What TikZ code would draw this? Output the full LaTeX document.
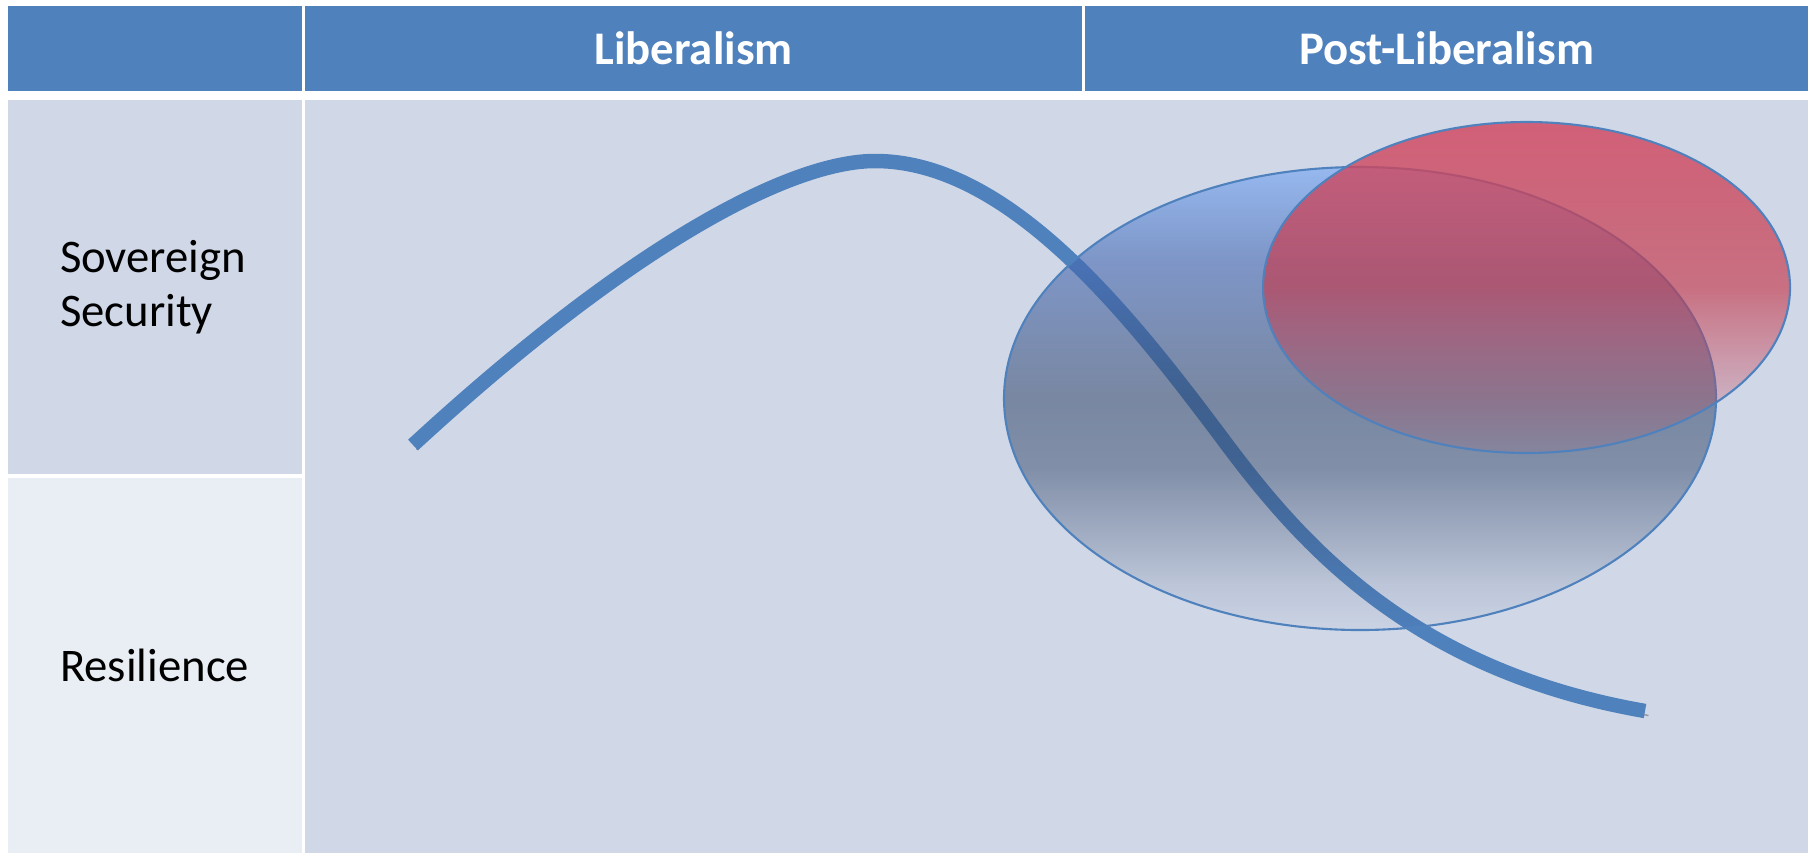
\documentclass[tikz,border=0pt]{standalone}
\usepackage{fontspec}
\setmainfont{Carlito}
\usetikzlibrary{positioning, fadings}

\definecolor{hdrblue}{RGB}{79,129,189}
\definecolor{cellA}{RGB}{208,216,232}
\definecolor{cellB}{RGB}{233,237,244}
\definecolor{glassTop}{RGB}{115,166,245}
\definecolor{glassMid}{RGB}{70,105,178}
\definecolor{glassLow}{RGB}{50,70,105}
\definecolor{roseTop}{RGB}{210,75,100}
\definecolor{roseMid}{RGB}{196,57,75}
\definecolor{roseBot}{RGB}{195,70,90}

% colour ramps of the two ellipses (path box = 25bp..75bp)
\pgfdeclareverticalshading{glassramp}{100bp}{color(0bp)=(glassLow); color(50bp)=(glassLow); color(65bp)=(glassMid); color(75bp)=(glassTop); color(100bp)=(glassTop)}
\pgfdeclareverticalshading{roseramp}{100bp}{color(0bp)=(roseBot); color(25bp)=(roseBot); color(50bp)=(roseMid); color(75bp)=(roseTop); color(100bp)=(roseTop)}
% see-through of the two ellipses (white = solid)
\pgfdeclareverticalshading{glassalpha}{100bp}{color(0bp)=(white!3!black); color(25bp)=(white!3!black); color(30bp)=(white!12!black); color(35bp)=(white!28!black); color(42.5bp)=(white!50!black); color(50bp)=(white!55!black); color(75bp)=(white!62!black); color(100bp)=(white!62!black)}
\pgfdeclareverticalshading{rosealpha}{100bp}{color(0bp)=(white!10!black); color(25bp)=(white!10!black); color(32.5bp)=(white!25!black); color(40bp)=(white!42!black); color(50bp)=(white!65!black); color(75bp)=(white!85!black); color(100bp)=(white!85!black)}
\pgfdeclarefading{glassfade}{\pgfuseshading{glassalpha}}
\pgfdeclarefading{rosefade}{\pgfuseshading{rosealpha}}

\tikzset{
  cell/.style={rectangle, inner sep=0pt, outer sep=0pt, anchor=north west},
  hdrcell/.style={cell, fill=hdrblue, minimum height=0.85cm, text=white,
                  font=\fontsize{13.3}{16}\selectfont\bfseries},
  rowcell/.style={cell, minimum width=2.94cm, text width=1.9cm, align=left,
                  font=\fontsize{13.3}{15.5}\selectfont},
  wave/.style={line width=0.145cm, draw=hdrblue,
               preaction={draw=black, opacity=0.3,
                          transform canvas={xshift=0.035cm, yshift=-0.045cm}}},
  ring/.style={draw=hdrblue, line width=0.6pt},
}

\begin{document}
\begin{tikzpicture}
  \useasboundingbox (0,0) rectangle (18.08,8.53);
  \fill[white] (0,0) rectangle (18.08,8.53);

  % header row
  \node[hdrcell, minimum width=2.94cm] (hdr0) at (0.08,8.47) {};
  \node[hdrcell, minimum width=7.77cm, right=0.03cm of hdr0] (hdr1) {Liberalism};
  \node[hdrcell, minimum width=7.23cm, right=0.03cm of hdr1] (hdr2) {Post-Liberalism};

  % row labels
  \node[rowcell, fill=cellA, minimum height=3.74cm, below=0.09cm of hdr0] (sov)
    {Sovereign\\Security};
  \node[rowcell, fill=cellB, minimum height=3.75cm, below=0.04cm of sov] (res)
    {Resilience};

  % merged body
  \node[cell, fill=cellA, minimum width=15.03cm, minimum height=7.53cm,
        below=0.09cm of hdr1.south west, anchor=north west] (body) {};

  \draw[wave] (4.13,4.08) .. controls (6.3,6.08) and (7.9,6.92) .. (8.75,6.92)
    .. controls (10.1,6.92) and (11.32,5.35) .. (12.22,4.15)
    .. controls (13.0,3.1) and (14.1,1.83) .. (16.45,1.42);

  \shade[shading=glassramp, path fading=glassfade]
    (13.60,4.545) ellipse [x radius=3.56cm, y radius=2.315cm];
  \draw[ring] (13.60,4.545) ellipse [x radius=3.56cm, y radius=2.315cm];

  \shade[shading=roseramp, path fading=rosefade]
    (15.265,5.655) ellipse [x radius=2.635cm, y radius=1.655cm];
  \draw[ring] (15.265,5.655) ellipse [x radius=2.635cm, y radius=1.655cm];
\end{tikzpicture}
\end{document}
